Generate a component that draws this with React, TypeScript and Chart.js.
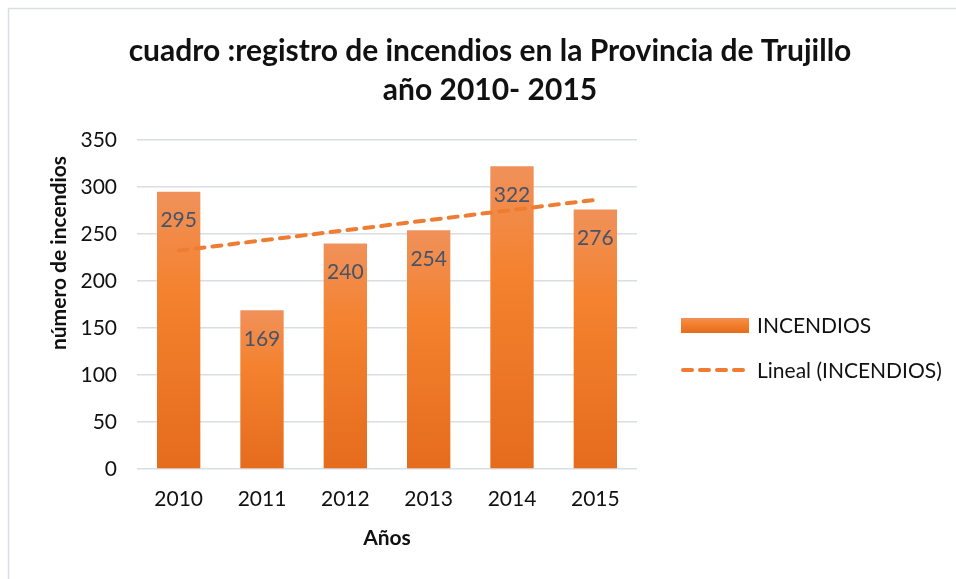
import React, { useEffect, useRef } from 'react';
import { Chart, registerables } from 'chart.js';

Chart.register(...registerables);

const categories = ['2010', '2011', '2012', '2013', '2014', '2015'];
const incendios = [295, 169, 240, 254, 322, 276];
const yMin = 0;
const yMax = 350;
const yStep = 50;
const titleLines = ['cuadro :registro de incendios en la Provincia de Trujillo', 'año 2010- 2015'];
const seriesName = 'INCENDIOS';
const trendName = 'Lineal (INCENDIOS)';
const yTitle = 'número de incendios';
const xTitle = 'Años';

// Excel-style linear trendline (least squares) over the series values
function linearTrend(values: number[]): number[] {
  const n = values.length;
  const xs = values.map((_, i) => i + 1);
  const mx = xs.reduce((a, b) => a + b, 0) / n;
  const my = values.reduce((a, b) => a + b, 0) / n;
  let sxy = 0;
  let sxx = 0;
  for (let i = 0; i < n; i++) {
    sxy += (xs[i] - mx) * (values[i] - my);
    sxx += (xs[i] - mx) * (xs[i] - mx);
  }
  const slope = sxy / sxx;
  return xs.map((x) => my + slope * (x - mx));
}

const W = 956;
const H = 579;
const FONT = 'Lato, "Open Sans", sans-serif';
const TREND_COLOR = '#EE7D33';
const LABEL_COLOR = '#44546A';
const TEXT_COLOR = '#111111';

function barGradient(ctx: CanvasRenderingContext2D, top: number, bottom: number) {
  const g = ctx.createLinearGradient(0, top, 0, bottom);
  g.addColorStop(0, '#F0915A');
  g.addColorStop(0.35, '#F4822F');
  g.addColorStop(1, '#E56C1D');
  return g;
}

const decorPlugin = {
  id: 'decor',
  beforeDraw(chart: any) {
    const ctx = chart.ctx as CanvasRenderingContext2D;
    ctx.save();
    ctx.fillStyle = '#ffffff';
    ctx.fillRect(0, 0, W, H);
    ctx.strokeStyle = '#D9DEE4';
    ctx.lineWidth = 1.5;
    ctx.strokeRect(8.5, 8.5, W + 20, H + 20);
    ctx.restore();
  },
  afterDatasetsDraw(chart: any) {
    const ctx = chart.ctx as CanvasRenderingContext2D;
    const meta = chart.getDatasetMeta(1);
    ctx.save();
    ctx.font = `21px ${FONT}`;
    ctx.fillStyle = LABEL_COLOR;
    ctx.textAlign = 'center';
    ctx.textBaseline = 'middle';
    meta.data.forEach((bar: any, i: number) => {
      ctx.fillText(String(incendios[i]), bar.x, bar.y + 29);
    });
    ctx.restore();
  },
  afterDraw(chart: any) {
    const ctx = chart.ctx as CanvasRenderingContext2D;
    const area = chart.chartArea;
    ctx.save();
    // Title
    ctx.fillStyle = TEXT_COLOR;
    ctx.font = `bold 30px ${FONT}`;
    ctx.textAlign = 'center';
    ctx.textBaseline = 'alphabetic';
    ctx.fillText(titleLines[0], 490, 61);
    ctx.fillText(titleLines[1], 490, 100);

    // Axis titles
    ctx.font = `bold 21px ${FONT}`;
    ctx.textBaseline = 'middle';
    ctx.fillText(xTitle, (area.left + area.right) / 2, 538);
    ctx.save();
    ctx.translate(59, 253);
    ctx.rotate(-Math.PI / 2);
    ctx.fillText(yTitle, 0, 0);
    ctx.restore();

    // Legend
    ctx.fillStyle = barGradient(ctx, 318, 333);
    ctx.fillRect(681, 318, 68, 15);
    ctx.strokeStyle = TREND_COLOR;
    ctx.lineWidth = 4;
    ctx.lineCap = 'round';
    ctx.setLineDash([9, 8]);
    ctx.beginPath();
    ctx.moveTo(683, 370);
    ctx.lineTo(749, 370);
    ctx.stroke();
    ctx.setLineDash([]);
    ctx.fillStyle = TEXT_COLOR;
    ctx.font = `21px ${FONT}`;
    ctx.textAlign = 'left';
    ctx.fillText(seriesName, 757, 326);
    ctx.fillText(trendName, 757, 371);
    ctx.restore();
  },
};

export default function App() {
  const canvasRef = useRef<HTMLCanvasElement | null>(null);

  useEffect(() => {
    const canvas = canvasRef.current;
    if (!canvas) return;
    const trend = linearTrend(incendios);
    const chart = new Chart(canvas, {
      type: 'bar',
      data: {
        labels: categories,
        datasets: [
          {
            type: 'line',
            label: trendName,
            data: trend,
            borderColor: TREND_COLOR,
            borderWidth: 4,
            borderDash: [9, 8],
            borderCapStyle: 'round',
            pointRadius: 0,
            fill: false,
            tension: 0,
            order: 0,
          } as any,
          {
            type: 'bar',
            label: seriesName,
            data: incendios,
            order: 1,
            barPercentage: 0.52,
            categoryPercentage: 1,
            backgroundColor: (c: any) => {
              const ch = c.chart;
              if (!ch.chartArea || c.type !== 'data' || !ch.scales.y) return '#F2802E';
              const top = ch.scales.y.getPixelForValue(c.raw);
              const bottom = ch.scales.y.getPixelForValue(0);
              return barGradient(ch.ctx, top, bottom);
            },
          } as any,
        ],
      },
      options: {
        animation: false,
        responsive: false,
        devicePixelRatio: 1,
        layout: { padding: { left: 0, right: W - 637, top: 140, bottom: 0 } },
        plugins: {
          legend: { display: false },
          title: { display: false },
          tooltip: { enabled: false },
        },
        scales: {
          x: {
            grid: { display: false, drawTicks: false },
            border: { display: false },
            ticks: {
              font: { family: FONT, size: 21 },
              color: TEXT_COLOR,
              padding: 18,
            },
            afterFit: (s: any) => {
              s.height = H - 469;
            },
          },
          y: {
            min: yMin,
            max: yMax,
            grid: { color: '#D9DEE4', lineWidth: 1.5, drawTicks: false },
            border: { display: false },
            ticks: {
              stepSize: yStep,
              font: { family: FONT, size: 21 },
              color: TEXT_COLOR,
              padding: 20,
            },
            afterFit: (s: any) => {
              s.width = 137;
            },
          },
        },
      } as any,
      plugins: [decorPlugin],
    });
    return () => chart.destroy();
  }, []);

  return (
    <div style={{ position: 'fixed', left: 0, top: 0, width: W, height: H, background: '#fff' }}>
      <canvas ref={canvasRef} width={W} height={H} style={{ display: 'block', width: W, height: H }} />
    </div>
  );
}
